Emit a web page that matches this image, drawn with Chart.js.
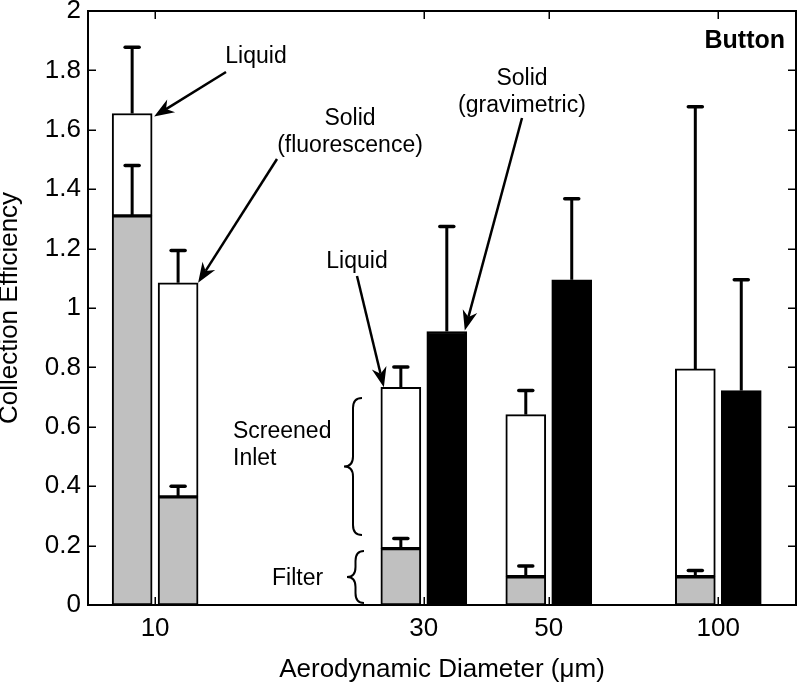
<!DOCTYPE html>
<html>
<head>
<meta charset="utf-8">
<script src="https://cdn.jsdelivr.net/npm/chart.js@4.4.0/dist/chart.umd.min.js"></script>
<style>
  html, body { margin: 0; padding: 0; background: #fff; }
  #wrap { width: 800px; height: 689px; }
</style>
</head>
<body>
<div id="wrap"><canvas id="chart" width="800" height="689"></canvas></div>
<script>
// === DATA ===
const diameters = [10, 30, 50, 100]; // aerodynamic diameter, um

// liquid: filter part (grey) and total incl. screened inlet (white)
const liquidFilter = [1.31, 0.19, 0.095, 0.095];
const liquidFilterErr = [1.48, 0.224, 0.131, 0.116];
const liquidTotal = [1.655, 0.733, 0.641, 0.795];
const liquidTotalErr = [1.878, 0.801, 0.722, 1.678];

// solid, fluorescence (only at 10 um)
const solidFluorFilter = [0.364, null, null, null];
const solidFluorFilterErr = [0.40, null, null, null];
const solidFluorTotal = [1.085, null, null, null];
const solidFluorTotalErr = [1.194, null, null, null];

// solid, gravimetric (30, 50, 100 um)
const solidGrav = [null, 0.921, 1.095, 0.722];
const solidGravErr = [null, 1.274, 1.368, 1.095];

const yMin = 0, yMax = 2, yStep = 0.2;

// === HELPERS ===
const FONT = '"Liberation Sans", Arial, Helvetica, sans-serif';
const GREY = "#c0c0c0";
const SHIFT = 0.0408; // bar offset from the tick, in decades
const LEFT = Math.pow(10, -SHIFT), RIGHT = Math.pow(10, SHIFT);

function bars(values, base, errs, shift) {
  const out = [];
  diameters.forEach((d, i) => {
    if (values[i] == null) return;
    out.push({ x: d * shift, y: [base ? base[i] : 0, values[i]], err: errs[i] });
  });
  return out;
}

function barSet(data, color) {
  return {
    data: data,
    backgroundColor: color,
    borderColor: "#000",
    borderWidth: 2,
    borderSkipped: false,
    barThickness: 40,
    grouped: false
  };
}

// === PLUGINS ===
const errorBars = {
  id: "errorBars",
  afterDatasetsDraw(chart) {
    const ctx = chart.ctx, y = chart.scales.y;
    ctx.save();
    ctx.strokeStyle = "#000";
    chart.data.datasets.forEach((ds, di) => {
      const meta = chart.getDatasetMeta(di);
      ds.data.forEach((p, i) => {
        if (p.err == null) return;
        const el = meta.data[i];
        const top = y.getPixelForValue(p.err);
        ctx.lineWidth = 3;
        ctx.lineCap = "butt";
        ctx.beginPath();
        ctx.moveTo(el.x, el.y);
        ctx.lineTo(el.x, top);
        ctx.stroke();
        ctx.lineWidth = 3.5;
        ctx.lineCap = "round";
        ctx.beginPath();
        ctx.moveTo(el.x - 7, top);
        ctx.lineTo(el.x + 7, top);
        ctx.stroke();
      });
    });
    ctx.restore();
  }
};

// box round the plot with inward ticks on all sides
const frame = {
  id: "frame",
  afterDraw(chart) {
    const { ctx, chartArea: a, scales } = chart;
    const L = 8;
    ctx.save();
    ctx.strokeStyle = "#000";
    ctx.lineWidth = 1.5;
    scales.y.ticks.forEach(t => {
      const py = Math.round(scales.y.getPixelForValue(t.value)) + 0.25;
      ctx.beginPath();
      ctx.moveTo(a.left, py); ctx.lineTo(a.left + L, py);
      ctx.moveTo(a.right, py); ctx.lineTo(a.right - L, py);
      ctx.stroke();
    });
    scales.x.ticks.forEach(t => {
      const px = Math.round(scales.x.getPixelForValue(t.value)) + 0.25;
      ctx.beginPath();
      ctx.moveTo(px, a.bottom); ctx.lineTo(px, a.bottom - L);
      ctx.moveTo(px, a.top); ctx.lineTo(px, a.top + L);
      ctx.stroke();
    });
    ctx.lineWidth = 2;
    ctx.strokeRect(a.left, a.top, a.right - a.left, a.bottom - a.top);
    ctx.restore();
  }
};

function arrow(ctx, x1, y1, x2, y2) {
  const ang = Math.atan2(y2 - y1, x2 - x1);
  const len = 20, half = 7.5, notch = 14;
  const c = Math.cos(ang), s = Math.sin(ang);
  ctx.beginPath();
  ctx.moveTo(x1, y1);
  ctx.lineTo(x2 - notch * c, y2 - notch * s);
  ctx.stroke();
  ctx.beginPath();
  ctx.moveTo(x2, y2);
  ctx.lineTo(x2 - len * c + half * s, y2 - len * s - half * c);
  ctx.lineTo(x2 - notch * c, y2 - notch * s);
  ctx.lineTo(x2 - len * c - half * s, y2 - len * s + half * c);
  ctx.closePath();
  ctx.fill();
}

// "{" shape: tips on the right at xr, point on the left
function brace(ctx, xr, y1, y2, w) {
  const xm = xr - w / 2, xl = xr - w, ym = (y1 + y2) / 2, r = Math.min(10, (y2 - y1) / 4);
  ctx.beginPath();
  ctx.moveTo(xr, y1);
  ctx.quadraticCurveTo(xm, y1, xm, y1 + r);
  ctx.lineTo(xm, ym - r);
  ctx.quadraticCurveTo(xm, ym, xl, ym);
  ctx.quadraticCurveTo(xm, ym, xm, ym + r);
  ctx.lineTo(xm, y2 - r);
  ctx.quadraticCurveTo(xm, y2, xr, y2);
  ctx.stroke();
}

const notes = {
  id: "notes",
  afterDraw(chart) {
    const ctx = chart.ctx;
    const liq = chart.getDatasetMeta(1).data;
    const fluor = chart.getDatasetMeta(3).data;
    const grav = chart.getDatasetMeta(4).data;
    ctx.save();
    ctx.fillStyle = "#000";
    ctx.strokeStyle = "#000";
    ctx.lineWidth = 2.5;
    ctx.textBaseline = "middle";

    ctx.font = "bold 25px " + FONT;
    ctx.textAlign = "right";
    ctx.fillText("Button", 785, 41);

    ctx.font = "23px " + FONT;
    ctx.textAlign = "center";
    ctx.fillText("Liquid", 256, 57);
    ctx.fillText("Solid", 350, 119);
    ctx.fillText("(fluorescence)", 350, 146);
    ctx.fillText("Solid", 522, 79);
    ctx.fillText("(gravimetric)", 522, 106);
    ctx.fillText("Liquid", 357, 262);
    ctx.textAlign = "left";
    ctx.fillText("Screened", 233, 432);
    ctx.fillText("Inlet", 233, 459);
    ctx.fillText("Filter", 272, 579);

    arrow(ctx, 226, 72, liq[0].x + 22, liq[0].y + 3);
    arrow(ctx, 277, 159, fluor[0].x + 20, fluor[0].y);
    arrow(ctx, 522, 118, grav[0].x + 18, grav[0].y - 1);
    arrow(ctx, 357, 276, liq[1].x - 17, liq[1].y);

    ctx.lineWidth = 2;
    brace(ctx, 362, 398, 535, 18);
    brace(ctx, 364, 551, 603, 17);
    ctx.restore();
  }
};

// === CHART ===
const tickFont = { family: FONT, size: 26 };

new Chart(document.getElementById("chart"), {
  type: "bar",
  data: {
    datasets: [
      barSet(bars(liquidFilter, null, liquidFilterErr, LEFT), GREY),
      barSet(bars(liquidTotal, liquidFilter, liquidTotalErr, LEFT), "#fff"),
      barSet(bars(solidFluorFilter, null, solidFluorFilterErr, RIGHT), GREY),
      barSet(bars(solidFluorTotal, solidFluorFilter, solidFluorTotalErr, RIGHT), "#fff"),
      barSet(bars(solidGrav, null, solidGravErr, RIGHT), "#000")
    ]
  },
  options: {
    responsive: false,
    animation: false,
    layout: { padding: { top: 11, right: 4, left: 0, bottom: 0 } },
    plugins: { legend: { display: false }, tooltip: { enabled: false } },
    scales: {
      x: {
        type: "logarithmic",
        min: 7.6,
        max: 137.4,
        offset: false,
        grid: { display: false, drawTicks: false },
        border: { display: false },
        afterBuildTicks: s => { s.ticks = diameters.map(v => ({ value: v })); },
        ticks: { callback: v => String(v), autoSkip: false, maxRotation: 0, padding: 8, color: "#000", font: tickFont },
        title: { display: true, text: "Aerodynamic Diameter (\u03bcm)", color: "#000", font: tickFont, padding: { top: 0, bottom: 4 } },
        afterFit: s => { s.height = 84; s.paddingLeft = 0; s.paddingRight = 0; }
      },
      y: {
        min: yMin,
        max: yMax,
        grid: { display: false, drawTicks: false },
        border: { display: false },
        ticks: { stepSize: yStep, padding: 7, color: "#000", font: tickFont, callback: v => String(+v.toFixed(1)) },
        title: { display: true, text: "Collection Efficiency", color: "#000", font: { family: FONT, size: 26, lineHeight: 0.75 }, padding: 0 },
        afterFit: s => { s.width = 88; s.paddingTop = 0; s.paddingBottom = 0; }
      }
    }
  },
  plugins: [errorBars, frame, notes]
});
</script>
</body>
</html>
